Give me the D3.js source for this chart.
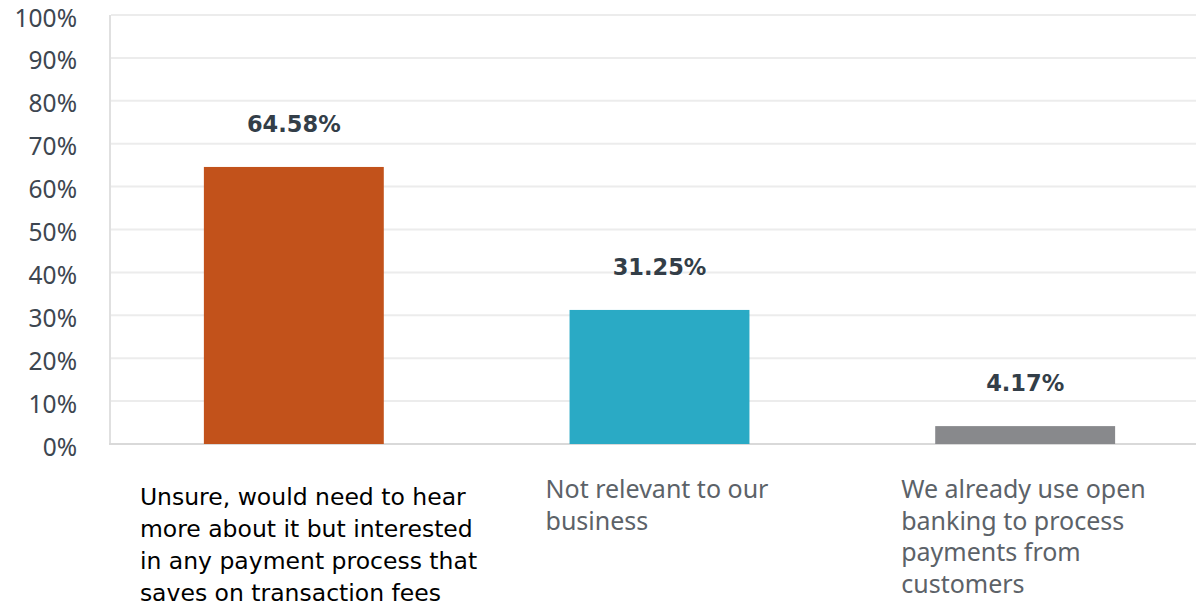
<!DOCTYPE html>
<html>
<head>
<meta charset="utf-8">
<script src="https://cdn.jsdelivr.net/npm/d3@7"></script>
<style>
  html, body { margin: 0; padding: 0; background: #ffffff; }
  svg { display: block; }
</style>
</head>
<body>
<svg id="chart" width="1196" height="608"></svg>
<script>
// Survey answers and their shares (percent of respondents)
const categories = [
  "Unsure, would need to hear more about it but interested in any payment process that saves on transaction fees",
  "Not relevant to our business",
  "We already use open banking to process payments from customers"
];
const values = [64.58, 31.25, 4.17];
const colors = ["#c2521b", "#2aaac5", "#88898c"];
const tickValues = [0, 10, 20, 30, 40, 50, 60, 70, 80, 90, 100];

// Wrapped lines for the category captions
const captionLines = [
  ["Unsure, would need to hear", "more about it but interested", "in any payment process that", "saves on transaction fees"],
  ["Not relevant to our", "business"],
  ["We already use open", "banking to process", "payments from", "customers"]
];

const svg = d3.select("#chart");
const plot = { left: 111, right: 1208, top: 15, bottom: 444 };

const x = d3.scaleBand()
  .domain(categories)
  .range([plot.left, plot.right])
  .paddingInner(0.508)
  .paddingOuter(0.254);

const y = d3.scaleLinear()
  .domain([0, 100])
  .range([plot.bottom, plot.top]);

// Horizontal gridlines
svg.append("g")
  .selectAll("line")
  .data(tickValues.filter(d => d > 0))
  .join("line")
  .attr("x1", plot.left)
  .attr("x2", 1196)
  .attr("y1", d => y(d))
  .attr("y2", d => y(d))
  .attr("stroke", "#ececec")
  .attr("stroke-width", 2);

// Y axis labels
const yAxis = d3.axisLeft(y)
  .tickValues(tickValues)
  .tickFormat(d => d + "%")
  .tickSize(0)
  .tickPadding(34);

const yg = svg.append("g")
  .attr("transform", `translate(${plot.left},0)`)
  .call(yAxis);
yg.select(".domain").remove();
yg.selectAll("text")
  .attr("font-family", "'Noto Sans', sans-serif")
  .attr("font-size", 24.5)
  .attr("fill", "#3d4650")
  .attr("dy", "0.45em");

// Left and bottom axis lines
svg.append("line")
  .attr("x1", plot.left - 1).attr("x2", plot.left - 1)
  .attr("y1", plot.top).attr("y2", plot.bottom + 1)
  .attr("stroke", "#e0e0e0").attr("stroke-width", 2);
svg.append("line")
  .attr("x1", plot.left - 2).attr("x2", 1196)
  .attr("y1", plot.bottom).attr("y2", plot.bottom)
  .attr("stroke", "#d9d9d9").attr("stroke-width", 2);

// Bars
svg.append("g")
  .selectAll("rect")
  .data(values)
  .join("rect")
  .attr("x", (d, i) => x(categories[i]))
  .attr("width", x.bandwidth())
  .attr("y", d => y(d))
  .attr("height", d => y(0) - y(d))
  .attr("fill", (d, i) => colors[i]);

// Value labels above each bar
svg.append("g")
  .selectAll("text")
  .data(values)
  .join("text")
  .attr("x", (d, i) => x(categories[i]) + x.bandwidth() / 2)
  .attr("y", d => y(d) - 35)
  .attr("text-anchor", "middle")
  .attr("font-family", "'DejaVu Sans', sans-serif")
  .attr("font-weight", "bold")
  .attr("font-size", 22.5)
  .attr("fill", "#333e48")
  .text(d => d.toFixed(2) + "%");

// Category captions under the axis
const captionStyle = [
  { dx: -64, top: 505, family: "'DejaVu Sans', sans-serif", fill: "#000000", size: 23.5, lh: 32 },
  { dx: -24, top: 498, family: "'Noto Sans', sans-serif", fill: "#5c6268", size: 25, lh: 31.5 },
  { dx: -34, top: 498, family: "'Noto Sans', sans-serif", fill: "#5c6268", size: 25, lh: 31.5 }
];

captionLines.forEach((lines, i) => {
  const s = captionStyle[i];
  const t = svg.append("text")
    .attr("font-family", s.family)
    .attr("font-size", s.size)
    .attr("fill", s.fill);
  lines.forEach((line, j) => {
    t.append("tspan")
      .attr("x", x(categories[i]) + s.dx)
      .attr("y", s.top + j * s.lh)
      .text(line);
  });
});
</script>
</body>
</html>
